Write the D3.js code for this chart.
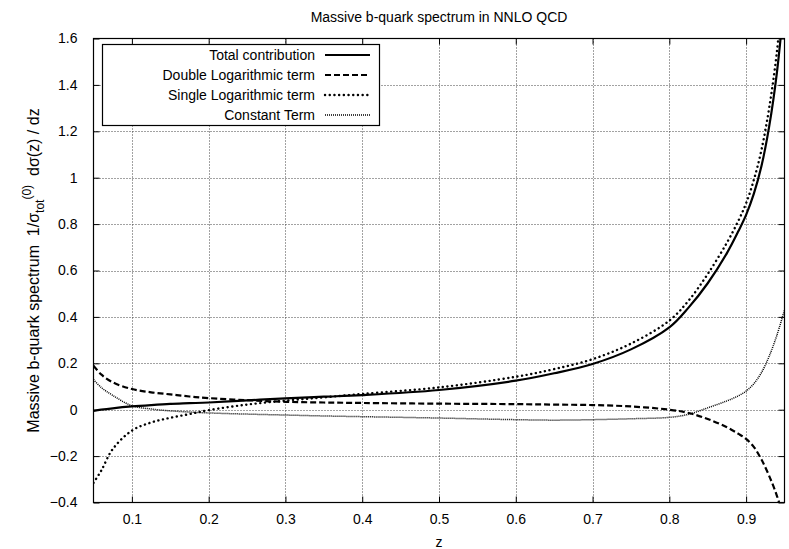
<!DOCTYPE html>
<html><head><meta charset="utf-8">
<script src="https://cdn.jsdelivr.net/npm/d3@7"></script>
<style>
html,body{margin:0;padding:0;background:#fff;}
svg{display:block;font-family:"Liberation Sans",Arial,Helvetica,sans-serif;}
</style></head>
<body>
<svg id="chart" width="789" height="549"></svg>
<script>
// ---- data ----
const zValues = [0.05,0.06,0.075,0.1,0.125,0.15,0.175,0.2,0.25,0.3,0.35,0.4,0.5,0.6,0.65,0.7,0.75,0.8,0.825,0.85,0.875,0.89,0.9,0.91,0.92,0.93,0.94,0.95];
const totalContribution = [-0.005,0.000,0.006,0.014,0.020,0.025,0.028,0.031,0.040,0.049,0.056,0.063,0.085,0.125,0.157,0.197,0.260,0.355,0.440,0.545,0.675,0.770,0.840,0.930,1.050,1.220,1.450,1.780];
const doubleLogTerm = [0.190,0.152,0.118,0.089,0.075,0.066,0.057,0.050,0.041,0.034,0.031,0.029,0.026,0.024,0.022,0.020,0.014,0.000,-0.014,-0.040,-0.076,-0.104,-0.126,-0.160,-0.215,-0.285,-0.370,-0.480];
const singleLogTerm = [-0.315,-0.263,-0.170,-0.090,-0.055,-0.035,-0.019,-0.002,0.022,0.039,0.053,0.068,0.096,0.142,0.175,0.218,0.285,0.384,0.470,0.585,0.720,0.815,0.890,0.990,1.120,1.300,1.540,1.900];
const constantTerm = [0.130,0.096,0.062,0.017,0.003,-0.005,-0.010,-0.014,-0.019,-0.023,-0.027,-0.030,-0.036,-0.043,-0.045,-0.043,-0.039,-0.033,-0.020,0.008,0.038,0.060,0.080,0.112,0.160,0.230,0.320,0.430];
const seriesNames = ["Total contribution","Double Logarithmic term","Single Logarithmic term","Constant Term"];
const xTicks = [0.1,0.2,0.3,0.4,0.5,0.6,0.7,0.8,0.9];
const yTicks = [-0.4,-0.2,0,0.2,0.4,0.6,0.8,1,1.2,1.4,1.6];
const titleText = "Massive b-quark spectrum in NNLO QCD";
const xLabel = "z";

// ---- layout ----
const svg = d3.select("#chart");
const L = 93.5, R = 784.5, T = 38.5, B = 502.5;
const x = d3.scaleLinear().domain([0.05,0.95]).range([L,R]);
const y = d3.scaleLinear().domain([-0.4,1.6]).range([B,T]);
const fontSize = 14;

// grid
const grid = svg.append("g").attr("stroke","#444").attr("stroke-width",1).attr("stroke-dasharray","1,2");
grid.selectAll("line.gx").data(xTicks).join("line")
  .attr("x1",d=>Math.round(x(d))+0.5).attr("x2",d=>Math.round(x(d))+0.5).attr("y1",T).attr("y2",B);
grid.selectAll("line.gy").data(yTicks.filter(d=>d>-0.4&&d<1.6)).join("line")
  .attr("y1",d=>Math.round(y(d))+0.5).attr("y2",d=>Math.round(y(d))+0.5).attr("x1",L).attr("x2",R);

// axes (ticks on all sides, inward)
const fmt = d => d3.format("")(+d.toFixed(1));
const axB = svg.append("g").attr("transform",`translate(0,${B})`)
  .call(d3.axisBottom(x).tickValues(xTicks).tickSizeInner(-6).tickSizeOuter(0).tickPadding(12).tickFormat(fmt));
const axT = svg.append("g").attr("transform",`translate(0,${T})`)
  .call(d3.axisTop(x).tickValues(xTicks).tickSizeInner(-6).tickSizeOuter(0).tickFormat(""));
const axL = svg.append("g").attr("transform",`translate(${L},0)`)
  .call(d3.axisLeft(y).tickValues(yTicks).tickSizeInner(-6).tickSizeOuter(0).tickPadding(16).tickFormat(fmt));
const axR = svg.append("g").attr("transform",`translate(${R},0)`)
  .call(d3.axisRight(y).tickValues(yTicks).tickSizeInner(-6).tickSizeOuter(0).tickFormat(""));
[axB,axT,axL,axR].forEach(a=>{
  a.select(".domain").remove();
  a.selectAll("line").attr("stroke","#000").attr("stroke-width",1);
  a.selectAll("text").attr("font-size",fontSize).attr("fill","#000").attr("font-family","Liberation Sans, Arial, sans-serif");
});

// curves
svg.append("clipPath").attr("id","plotclip").append("rect")
  .attr("x",L).attr("y",T).attr("width",R-L).attr("height",B-T);
const styles = [
  {w:2.2, dash:null},
  {w:2.2, dash:"6,3"},
  {w:2.4, dash:"0.1,4.6", cap:"round"},
  {w:1.5, dash:"1,1"}
];
const allSeries = [totalContribution,doubleLogTerm,singleLogTerm,constantTerm];
const line = d3.line().x(d=>x(d[0])).y(d=>y(d[1])).curve(d3.curveCatmullRom.alpha(0.5));
const curves = svg.append("g").attr("clip-path","url(#plotclip)");
allSeries.forEach((s,i)=>{
  curves.append("path").datum(zValues.map((z,j)=>[z,s[j]]))
    .attr("d",line).attr("fill","none").attr("stroke","#000")
    .attr("stroke-width",styles[i].w)
    .attr("stroke-dasharray",styles[i].dash)
    .attr("stroke-linecap",styles[i].cap||"butt");
});

// border
svg.append("rect").attr("x",L).attr("y",T).attr("width",R-L).attr("height",B-T)
  .attr("fill","none").attr("stroke","#000").attr("stroke-width",1.2);

// legend
const lg = svg.append("g");
lg.append("rect").attr("x",102.5).attr("y",44.5).attr("width",277).attr("height",81)
  .attr("fill","#fff").attr("stroke","#000").attr("stroke-width",1.2);
seriesNames.forEach((n,i)=>{
  const yy = 55 + i*20;
  lg.append("text").attr("x",315).attr("y",yy).attr("dy","0.35em").attr("text-anchor","end")
    .attr("font-size",fontSize).text(n);
  lg.append("line").attr("x1",325).attr("x2",370).attr("y1",yy).attr("y2",yy)
    .attr("stroke","#000").attr("stroke-width",styles[i].w)
    .attr("stroke-dasharray",styles[i].dash).attr("stroke-linecap",styles[i].cap||"butt");
});

// title and labels
svg.append("text").attr("x",(L+R)/2).attr("y",17).attr("dy","0.35em").attr("text-anchor","middle")
  .attr("font-size",14).text(titleText);
svg.append("text").attr("x",(L+R)/2).attr("y",542).attr("dy","0.35em").attr("text-anchor","middle")
  .attr("font-size",fontSize).text(xLabel);

const yl = svg.append("text").attr("transform",`translate(33,${(T+B)/2}) rotate(-90)`)
  .attr("text-anchor","middle").attr("font-size",16).attr("dy","0.35em")
  .attr("xml:space","preserve").style("white-space","pre");
yl.append("tspan").text("Massive b-quark spectrum  1/σ");
yl.append("tspan").attr("font-size",12).attr("dy",5).text("tot");
yl.append("tspan").attr("font-size",12).attr("dy",-13).text("(0)");
yl.append("tspan").attr("dy",8).text("  dσ(z) / dz");
</script>
</body></html>
